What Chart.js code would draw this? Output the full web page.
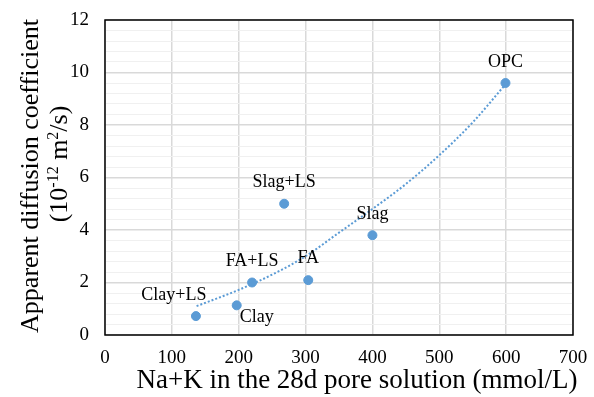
<!DOCTYPE html>
<html>
<head>
<meta charset="utf-8">
<script src="https://cdn.jsdelivr.net/npm/chart.js@4.4.1/dist/chart.umd.min.js"></script>
<style>
  html, body { margin: 0; padding: 0; background: #fff; }
</style>
</head>
<body>
<canvas id="myChart" width="594" height="397"></canvas>
<script>
const mezclas = ['Clay+LS', 'Clay', 'FA+LS', 'FA', 'Slag+LS', 'Slag', 'OPC'];
const naK = [136, 197, 220, 304, 268, 400, 599];
const difusion = [0.72, 1.13, 2.0, 2.09, 5.0, 3.8, 9.6];

// dotted trendline
const tendenciaX = [137, 200, 250, 300, 350, 400, 450, 500, 550, 599];
const tendenciaY = [1.1, 1.72, 2.3, 3.0, 3.9, 4.8, 5.75, 6.85, 8.1, 9.55];

const xTicks = [0, 100, 200, 300, 400, 500, 600, 700];
const yTicks = [0, 2, 4, 6, 8, 10, 12];

// label offsets from each point (px)
const offsetsEtiquetas = [[-22, -21], [20, 12], [0, -21], [0, -22], [0, -21], [0, -21], [0, -21]];

const azul = '#5b9bd5';
const fuente = '"Liberation Serif", "Times New Roman", serif';

const puntos = naK.map((x, i) => ({ x: x, y: difusion[i] }));
const linea = tendenciaX.map((x, i) => ({ x: x, y: tendenciaY[i] }));

const marco = {
    id: 'marco',
    beforeDatasetsDraw(chart) {
        const { ctx, chartArea } = chart;
        ctx.save();
        ctx.strokeStyle = '#000';
        ctx.lineWidth = 1.5;
        ctx.strokeRect(chartArea.left, chartArea.top, chartArea.right - chartArea.left, chartArea.bottom - chartArea.top);
        ctx.restore();
    }
};

const etiquetas = {
    id: 'etiquetas',
    afterDatasetsDraw(chart) {
        const ctx = chart.ctx;
        const meta = chart.getDatasetMeta(0);
        ctx.save();
        ctx.font = '18px ' + fuente;
        ctx.fillStyle = '#000';
        ctx.textAlign = 'center';
        ctx.textBaseline = 'middle';
        meta.data.forEach((pt, i) => {
            const off = offsetsEtiquetas[i];
            ctx.fillText(mezclas[i], pt.x + off[0], pt.y + off[1]);
        });
        ctx.restore();
    }
};

function textoConSuper(ctx, partes, cx, y, size) {
    const normal = size + 'px ' + fuente;
    const peque = Math.round(size * 0.62) + 'px ' + fuente;
    let total = 0;
    partes.forEach(p => {
        ctx.font = p[1] ? peque : normal;
        total += ctx.measureText(p[0]).width;
    });
    let x = cx - total / 2;
    partes.forEach(p => {
        ctx.font = p[1] ? peque : normal;
        ctx.fillText(p[0], x, p[1] ? y - size * 0.36 : y);
        x += ctx.measureText(p[0]).width;
    });
}

const titulos = {
    id: 'titulos',
    afterDraw(chart) {
        const ctx = chart.ctx;
        ctx.save();
        ctx.fillStyle = '#000';
        ctx.textAlign = 'left';
        ctx.textBaseline = 'alphabetic';
        // x axis title
        textoConSuper(ctx, [['Na+K in the 28d pore solution (mmol/L)', false]], 357, 388, 27);
        // y axis title, two lines rotated
        ctx.save();
        ctx.translate(38, 176);
        ctx.rotate(-Math.PI / 2);
        textoConSuper(ctx, [['Apparent diffusion coefficient', false]], 0, 0, 26);
        ctx.restore();
        ctx.save();
        ctx.translate(67, 164);
        ctx.rotate(-Math.PI / 2);
        textoConSuper(ctx, [['(10', false], ['-12', true], [' m', false], ['2', true], ['/s)', false]], 0, 0, 26);
        ctx.restore();
        ctx.restore();
    }
};

const esMayor = v => Math.abs(v / 2 - Math.round(v / 2)) < 1e-6;

new Chart(document.getElementById('myChart'), {
    type: 'scatter',
    data: {
        datasets: [{
            label: 'Mezclas',
            data: puntos,
            backgroundColor: azul,
            borderColor: azul,
            pointRadius: 4.5,
            pointHoverRadius: 4.5
        }, {
            label: 'Tendencia',
            data: linea,
            showLine: true,
            borderColor: azul,
            borderWidth: 2,
            borderDash: [2, 2],
            pointRadius: 0,
            cubicInterpolationMode: 'monotone',
            fill: false
        }]
    },
    options: {
        responsive: false,
        animation: false,
        layout: { padding: { top: 20, right: 21, left: 0, bottom: 0 } },
        plugins: {
            legend: { display: false },
            tooltip: { enabled: false }
        },
        scales: {
            x: {
                type: 'linear',
                min: 0,
                max: 700,
                afterFit: s => { s.height = 62; s.paddingLeft = 0; s.paddingRight = 0; },
                afterBuildTicks: s => { s.ticks = xTicks.map(v => ({ value: v })); },
                border: { display: false },
                grid: { color: '#d9d9d9', lineWidth: 1.5, drawTicks: false },
                ticks: {
                    padding: 12,
                    color: '#000',
                    font: { family: fuente, size: 19 }
                }
            },
            y: {
                type: 'linear',
                min: 0,
                max: 12,
                afterFit: s => { s.width = 105; s.paddingTop = 0; s.paddingBottom = 0; },
                border: { display: false },
                grid: {
                    drawTicks: false,
                    color: ctx => esMayor(ctx.tick.value) ? '#d9d9d9' : '#f0f0f0',
                    lineWidth: ctx => esMayor(ctx.tick.value) ? 1.5 : 1
                },
                ticks: {
                    stepSize: 0.4,
                    autoSkip: false,
                    padding: 16,
                    color: '#000',
                    font: { family: fuente, size: 19 },
                    callback: v => esMayor(v) && yTicks.includes(Math.round(v)) ? String(Math.round(v)) : ''
                }
            }
        }
    },
    plugins: [marco, etiquetas, titulos]
});
</script>
</body>
</html>
